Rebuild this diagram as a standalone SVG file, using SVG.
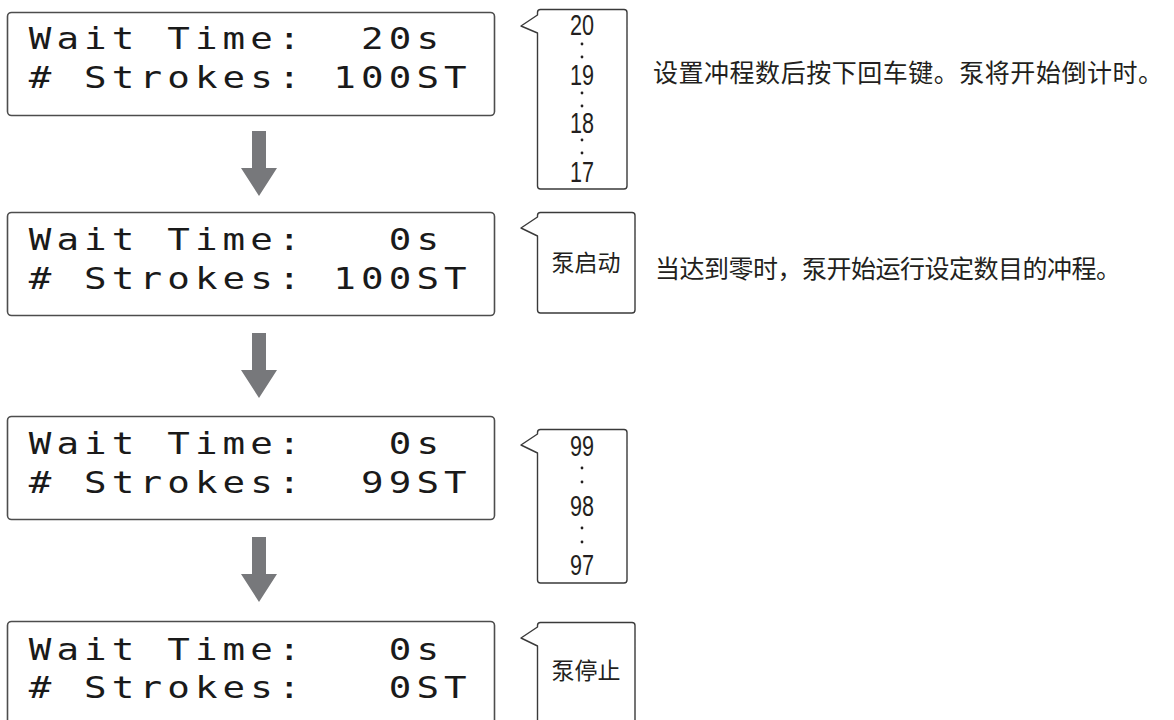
<svg xmlns="http://www.w3.org/2000/svg" width="1174" height="720" viewBox="0 0 1174 720">
<style>
.lcdbox{fill:#fff;stroke:#4d4d4d;stroke-width:1.6}
.lcd{font-family:"DejaVu Sans Mono","Liberation Mono",monospace;font-size:30px;letter-spacing:4.1px;fill:#1a1a1a;white-space:pre}
.call{fill:#fff;stroke:#3a3a3a;stroke-width:1.4;stroke-linejoin:round}
.num{font-family:"Liberation Sans Narrow","Liberation Sans",Arial,sans-serif;font-size:29px;fill:#231f20;text-anchor:middle}
.cjk{font-family:"Noto Sans CJK SC","Noto Sans CJK JP",sans-serif;fill:#231f20}
.dot{fill:#231f20}
.arrow{fill:#77787b}
</style>
<defs>
<path id="arr" d="M -7 0 H 7 V 37 H 18 L 0 65 L -18 37 H -7 Z"/>
</defs>

<g id="connectors">
<use href="#arr" class="arrow" x="259" y="131"/>
<use href="#arr" class="arrow" x="259" y="333"/>
<use href="#arr" class="arrow" x="259" y="537"/>
</g>

<g id="lcd1">
<rect class="lcdbox" x="7.5" y="12.5" width="487" height="103" rx="4"/>
<g transform="scale(1.25 1)">
<text class="lcd" x="23" y="49" xml:space="preserve">Wait Time:  20s</text>
<text class="lcd" x="23" y="88" xml:space="preserve"># Strokes: 100ST</text>
</g>
</g>
<g id="lcd2">
<rect class="lcdbox" x="7.5" y="212.5" width="487" height="103" rx="4"/>
<g transform="scale(1.25 1)">
<text class="lcd" x="23" y="250" xml:space="preserve">Wait Time:   0s</text>
<text class="lcd" x="23" y="289" xml:space="preserve"># Strokes: 100ST</text>
</g>
</g>
<g id="lcd3">
<rect class="lcdbox" x="7.5" y="416.5" width="487" height="103" rx="4"/>
<g transform="scale(1.25 1)">
<text class="lcd" x="23" y="454" xml:space="preserve">Wait Time:   0s</text>
<text class="lcd" x="23" y="493" xml:space="preserve"># Strokes:  99ST</text>
</g>
</g>
<g id="lcd4">
<rect class="lcdbox" x="7.5" y="621.5" width="487" height="110" rx="4"/>
<g transform="scale(1.25 1)">
<text class="lcd" x="23" y="660" xml:space="preserve">Wait Time:   0s</text>
<text class="lcd" x="23" y="698" xml:space="preserve"># Strokes:   0ST</text>
</g>
</g>

<g id="callout1">
<path class="call" d="M 540.5 9.5 H 624 Q 627 9.5 627 12.5 V 186 Q 627 189 624 189 H 540.5 Q 537.5 189 537.5 186 V 33 L 521 26 L 537.5 15 V 12.5 Q 537.5 9.5 540.5 9.5 Z"/>
<text class="num" x="582" y="35" textLength="24" lengthAdjust="spacingAndGlyphs">20</text>
<circle class="dot" cx="582" cy="44" r="1.4"/>
<circle class="dot" cx="582" cy="57" r="1.4"/>
<text class="num" x="582" y="85" textLength="24" lengthAdjust="spacingAndGlyphs">19</text>
<circle class="dot" cx="582" cy="93" r="1.4"/>
<circle class="dot" cx="582" cy="106" r="1.4"/>
<text class="num" x="582" y="133" textLength="24" lengthAdjust="spacingAndGlyphs">18</text>
<circle class="dot" cx="582" cy="140" r="1.4"/>
<circle class="dot" cx="582" cy="153" r="1.4"/>
<text class="num" x="582" y="182" textLength="24" lengthAdjust="spacingAndGlyphs">17</text>
</g>
<g id="callout2">
<path class="call" d="M 540.5 212.5 H 632 Q 635 212.5 635 215.5 V 310 Q 635 313 632 313 H 540.5 Q 537.5 313 537.5 310 V 236 L 521 228 L 537.5 217 V 215.5 Q 537.5 212.5 540.5 212.5 Z"/>
<text class="cjk" x="586" y="271" font-size="23" text-anchor="middle">泵启动</text>
</g>
<g id="callout3">
<path class="call" d="M 540.5 429.5 H 624 Q 627 429.5 627 432.5 V 580 Q 627 583 624 583 H 540.5 Q 537.5 583 537.5 580 V 453 L 521 445 L 537.5 434 V 432.5 Q 537.5 429.5 540.5 429.5 Z"/>
<text class="num" x="582" y="456" textLength="24" lengthAdjust="spacingAndGlyphs">99</text>
<circle class="dot" cx="582" cy="468" r="1.4"/>
<circle class="dot" cx="582" cy="482" r="1.4"/>
<text class="num" x="582" y="516" textLength="24" lengthAdjust="spacingAndGlyphs">98</text>
<circle class="dot" cx="582" cy="528" r="1.4"/>
<circle class="dot" cx="582" cy="542" r="1.4"/>
<text class="num" x="582" y="575" textLength="24" lengthAdjust="spacingAndGlyphs">97</text>
</g>
<g id="callout4">
<path class="call" d="M 537.5 730 V 646 L 521 638 L 537.5 627 V 625.5 Q 537.5 622.5 540.5 622.5 H 632 Q 635 622.5 635 625.5 V 730"/>
<text class="cjk" x="586" y="679" font-size="23" text-anchor="middle">泵停止</text>
</g>

<g id="desc1">
<text class="cjk" x="653" y="82" font-size="25" textLength="510" lengthAdjust="spacing">设置冲程数后按下回车键。泵将开始倒计时。</text>
</g>
<g id="desc2">
<text class="cjk" x="655" y="278" font-size="25" textLength="466" lengthAdjust="spacing">当达到零时，泵开始运行设定数目的冲程。</text>
</g>
</svg>
